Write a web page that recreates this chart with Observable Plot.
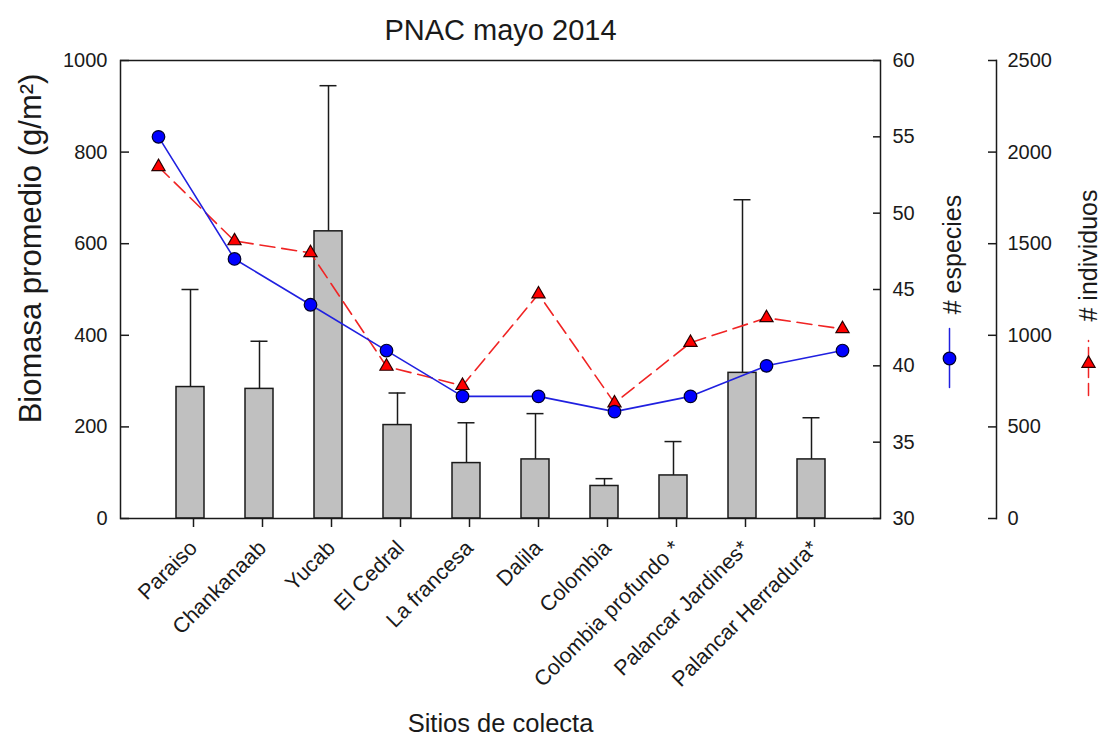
<!DOCTYPE html>
<html><head><meta charset="utf-8">
<script src="https://cdn.jsdelivr.net/npm/d3@7"></script>
<script src="https://cdn.jsdelivr.net/npm/@observablehq/plot@0.6"></script>
<style>
html,body{margin:0;padding:0;background:#fff;overflow:hidden}
#wrap{position:relative;width:1101px;height:737px}
#wrap svg{position:absolute;left:0;top:0;max-width:none}
</style></head><body><div id="wrap"></div>
<script>
const sites = ["Paraiso","Chankanaab","Yucab","El Cedral","La francesa","Dalila","Colombia","Colombia profundo *","Palancar Jardines*","Palancar Herradura*"];
const biomasa = [287,283,627,204,121,129,71,94,318,129];
const biomasaSD = [213,104,318,70,88,100,16,74,378,91];
const especies = [55,47,44,41,38,38,37,38,40,41];
const individuos = [1920,1515,1450,830,725,1225,630,960,1095,1035];
const bioTicks = [0,200,400,600,800,1000];
const espTicks = [30,35,40,45,50,55,60];
const indTicks = [0,500,1000,1500,2000,2500];

const data = sites.map((s,i)=>({site:s, bio:biomasa[i], top:biomasa[i]+biomasaSD[i], esp:especies[i], ind:individuos[i]}));

const W=1101, H=737, ML=120, MT=60, MB=219;
const FONT = "'Liberation Sans', Arial, Helvetica, sans-serif";
const ink = "#1a1a1a";
const xOpts = {domain: sites, paddingInner: 0.6, paddingOuter: 0.78};
const baseStyle = {fontFamily: FONT, fontSize: "20px", color: ink, background: "transparent"};
const fmt = d => String(d);
const lbl = {textAnchor:"middle", lineAnchor:"middle", fill:ink};

const p1 = Plot.plot({
  width: W, height: H, marginLeft: ML, marginRight: W-880, marginTop: MT, marginBottom: MB,
  style: baseStyle,
  x: {...xOpts},
  y: {domain: [0,1000]},
  marks: [
    Plot.ruleX(data, {x:"site", y1:"bio", y2:"top", stroke:ink, strokeWidth:1.5}),
    Plot.tickY(data, {x:"site", y:"top", stroke:ink, strokeWidth:1.5, insetLeft:5.5, insetRight:5.5}),
    Plot.barY(data, {x:"site", y:"bio", fill:"#c0c0c0", stroke:ink, strokeWidth:1.5}),
    Plot.frame({stroke:ink, strokeWidth:1.5}),
    Plot.axisY({ticks:bioTicks, tickSize:-9, tickPadding:22, tickFormat:fmt, label:null, fontSize:20, strokeWidth:1.5}),
    Plot.axisX({tickSize:9, tickRotate:-45, tickPadding:17, dx:3, label:null, fontSize:21.5, strokeWidth:1.5}),
    Plot.text(["Biomasa promedio (g/m²)"], {...lbl, frameAnchor:"left", dx:-89, dy:-41, rotate:-90, fontSize:31}),
    Plot.text(["Sitios de colecta"], {...lbl, frameAnchor:"bottom", dy:205, fontSize:25.5}),
    Plot.text(["PNAC mayo 2014"], {...lbl, frameAnchor:"top", dy:-30, fontSize:29})
  ]
});

const p3 = Plot.plot({
  width: W, height: H, marginLeft: ML, marginRight: W-996, marginTop: MT, marginBottom: MB,
  style: baseStyle,
  x: {...xOpts, axis: null, range: [120, 880]},
  y: {domain: [0,2500]},
  marks: [
    Plot.line(data, {x:"site", y:"ind", stroke:"#f02424", strokeWidth:1.6, strokeDasharray:"15,7"}),
    Plot.dot(data, {x:"site", y:"ind", symbol:"triangle", r:4.9, fill:"#ff0000", stroke:"#2a0000", strokeWidth:1.2}),
    Plot.frame({anchor:"right", stroke:ink, strokeWidth:1.5}),
    Plot.axisY({anchor:"right", ticks:indTicks, tickSize:-9, tickPadding:20, tickFormat:fmt, label:null, fontSize:20, strokeWidth:1.5}),
    Plot.text(["# individuos"], {...lbl, frameAnchor:"right", dx:92, dy:-34, rotate:-90, fontSize:25}),
    Plot.vector([0], {frameAnchor:"right", dx:92, dy:78.5, length:55, rotate:0, anchor:"middle", r:0, stroke:"#f02424", strokeWidth:1.5, strokeDasharray:"12,6"}),
    Plot.dot([0], {frameAnchor:"right", dx:92, dy:74, symbol:"triangle", r:4.9, fill:"#ff0000", stroke:"#2a0000", strokeWidth:1.2})
  ]
});

const p2 = Plot.plot({
  width: W, height: H, marginLeft: ML, marginRight: W-880, marginTop: MT, marginBottom: MB,
  style: baseStyle,
  x: {...xOpts, axis: null},
  y: {domain: [30,60]},
  marks: [
    Plot.line(data, {x:"site", y:"esp", stroke:"#2020e0", strokeWidth:1.6}),
    Plot.dot(data, {x:"site", y:"esp", r:6.3, fill:"#0000ff", stroke:"#00002a", strokeWidth:1.2}),
    Plot.axisY({anchor:"right", ticks:espTicks, tickSize:-8, tickPadding:20, tickFormat:fmt, label:null, fontSize:20, strokeWidth:1.5}),
    Plot.text(["# especies"], {...lbl, frameAnchor:"right", dx:72, dy:-35, rotate:-90, fontSize:25}),
    Plot.vector([0], {frameAnchor:"right", dx:69, dy:68.5, length:59, rotate:0, anchor:"middle", r:0, stroke:"#2020e0", strokeWidth:1.5}),
    Plot.dot([0], {frameAnchor:"right", dx:69, dy:69, r:6.3, fill:"#0000ff", stroke:"#00002a", strokeWidth:1.2})
  ]
});

const wrap = document.getElementById("wrap");
wrap.append(p1, p3, p2);
</script>
</body></html>
